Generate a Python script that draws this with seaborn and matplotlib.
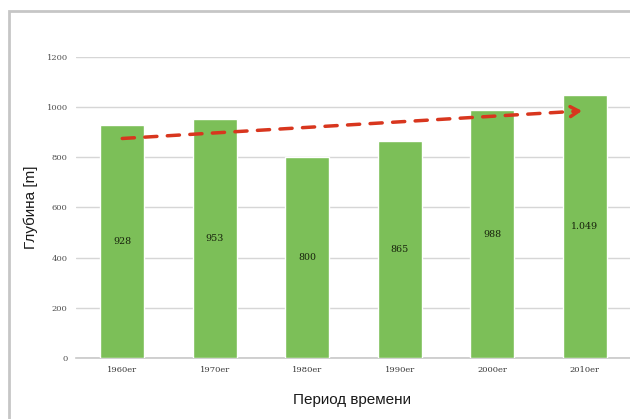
import numpy as np
import pandas as pd
import seaborn as sns
import matplotlib
matplotlib.use("Agg")
import matplotlib.pyplot as plt
from matplotlib.patches import Rectangle

periods = ["1960er", "1970er", "1980er", "1990er", "2000er", "2010er"]
depths = [928, 953, 800, 865, 988, 1049]
value_labels = ["928", "953", "800", "865", "988", "1.049"]
y_ticks = [0, 200, 400, 600, 800, 1000, 1200]

sns.set_theme(style="white")
plt.rcParams['font.family'] = ['Liberation Sans Narrow', 'Liberation Sans', 'DejaVu Sans']

W, H = 630, 419
fig = plt.figure(figsize=(W / 100, H / 100), dpi=100)
fig.patch.set_facecolor("white")

# outer frame
fig.patches.append(Rectangle((9 / W, -0.2), 1.2, (H - 11) / H + 0.2,
                             transform=fig.transFigure, fill=False,
                             edgecolor="#c6c6c6", lw=2.0, zorder=0))

ax = fig.add_axes([76 / W, (H - 358) / H, (631 - 76) / W, (358 - 57) / H])
df = pd.DataFrame({"period": periods, "depth": depths})
sns.barplot(data=df, x="period", y="depth", color="#7cbf58", saturation=1,
            width=0.48, ax=ax, zorder=3)

ax.set_ylim(0, 1200)
ax.set_xlim(-0.5, 5.5)
ax.set_yticks(y_ticks)
ax.set_yticklabels([str(t) for t in y_ticks], fontsize=6, color="#505050",
                   family=['DejaVu Serif'])
ax.set_xticks(range(len(periods)))
ax.set_xticklabels(periods, fontsize=6, color="#383838", family=['DejaVu Serif'])
ax.tick_params(axis="both", length=0, pad=6)
ax.yaxis.grid(True, color="#d6d6d6", lw=1.0, zorder=0)
for s in ["top", "right", "left"]:
    ax.spines[s].set_visible(False)
ax.spines["bottom"].set_color("#c8c8c8")
ax.spines["bottom"].set_linewidth(1.2)

for i, (v, lab) in enumerate(zip(depths, value_labels)):
    ax.text(i, v / 2, lab, ha="center", va="center", fontsize=6.8,
            color="#17220c", family=['DejaVu Serif'], zorder=5)

# linear trend
xs = np.arange(len(depths))
slope, intercept = np.polyfit(xs, depths, 1)
x0, x1 = 0.0, 5.0
y0, y1 = intercept + slope * x0, intercept + slope * x1
ax.plot([x0, x1 - 0.1], [y0, y1 - slope * 0.1], color="#d8361e", lw=2.5,
        dashes=(3.5, 3.0), zorder=6, dash_capstyle="round")
ax.annotate("", xy=(x1, y1), xytext=(x1 - 0.12, y1 - slope * 0.12),
            arrowprops=dict(arrowstyle="->,head_length=0.5,head_width=0.3",
                            color="#d8361e", lw=2.5), zorder=7)

ax.set_xlabel("")
ax.set_ylabel("")
fig.text(352 / W, 1 - 400 / H, "Период времени", ha="center", va="center",
         fontsize=11, color="#1a1a1a")
fig.text(31 / W, 1 - 207 / H, "Глубина [m]", ha="center", va="center",
         rotation=90, fontsize=11, color="#1a1a1a")

fig.savefig("out.png", dpi=100, facecolor="white")
